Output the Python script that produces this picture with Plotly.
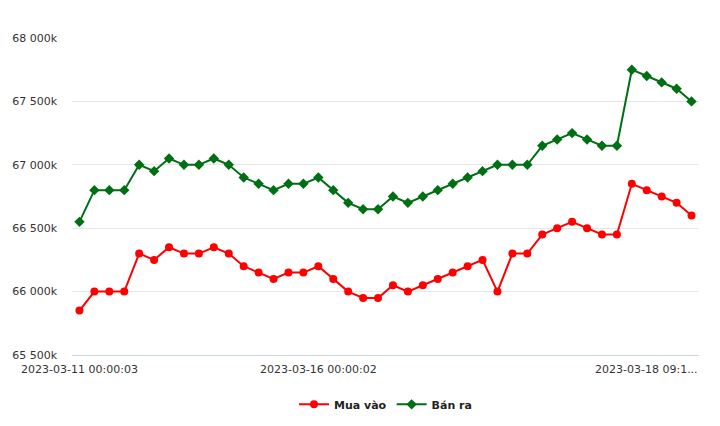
import plotly.graph_objects as go

tick_labels = ["2023-03-11 00:00:03", "2023-03-16 00:00:02"]
tick_index = [0, 16]
last_label = "2023-03-18 09:1..."

mua_vao = [65850, 66000, 66000, 66000, 66300, 66250, 66350, 66300, 66300, 66350,
           66300, 66200, 66150, 66100, 66150, 66150, 66200, 66100, 66000, 65950,
           65950, 66050, 66000, 66050, 66100, 66150, 66200, 66250, 66000, 66300,
           66300, 66450, 66500, 66550, 66500, 66450, 66450, 66850, 66800, 66750,
           66700, 66600]
ban_ra = [66550, 66800, 66800, 66800, 67000, 66950, 67050, 67000, 67000, 67050,
          67000, 66900, 66850, 66800, 66850, 66850, 66900, 66800, 66700, 66650,
          66650, 66750, 66700, 66750, 66800, 66850, 66900, 66950, 67000, 67000,
          67000, 67150, 67200, 67250, 67200, 67150, 67150, 67750, 67700, 67650,
          67600, 67500]

y_ticks = [65500, 66000, 66500, 67000, 67500, 68000]
y_tick_text = ["65 500k", "66 000k", "66 500k", "67 000k", "67 500k", "68 000k"]

x = list(range(len(mua_vao)))
RED = "#ff0000"
GREEN = "#006f14"

fig = go.Figure()
fig.add_trace(go.Scatter(x=x, y=mua_vao, name="Mua vào", mode="lines+markers",
                         line=dict(color=RED, width=2),
                         marker=dict(symbol="circle", size=8, color=RED)))
fig.add_trace(go.Scatter(x=x, y=ban_ra, name="Bán ra", mode="lines+markers",
                         line=dict(color=GREEN, width=2),
                         marker=dict(symbol="diamond", size=8, color=GREEN)))

fig.add_annotation(x=x[-1], y=0, xref="x", yref="paper", text=last_label,
                   showarrow=False, xanchor="right", yanchor="top", xshift=8, yshift=-6,
                   font=dict(family="DejaVu Sans", size=11, color="#333333"))

fig.update_layout(
    width=720, height=426,
    margin=dict(l=72, r=21, t=38, b=71, autoexpand=False),
    paper_bgcolor="white", plot_bgcolor="white",
    font=dict(family="DejaVu Sans", size=11, color="#333333"),
    showlegend=True,
    legend=dict(orientation="h", x=0.5, xanchor="center", y=-0.11, yanchor="top",
                font=dict(family="DejaVu Sans", size=11, color="#222222", weight="bold"),
                itemwidth=30),
    xaxis=dict(range=[-0.5, len(x) - 0.5], tickmode="array", tickvals=tick_index,
               ticktext=tick_labels, showgrid=False, zeroline=False,
               showline=True, linecolor="#ccd6eb", linewidth=1, ticks="",
               ticklabelstandoff=4, automargin=False,
               tickfont=dict(size=11, color="#333333")),
    yaxis=dict(range=[65500, 68000], tickmode="array", tickvals=y_ticks,
               ticktext=y_tick_text, showgrid=True, gridcolor="#e6e6e6", gridwidth=1,
               zeroline=False, ticks="", ticklabelstandoff=14, automargin=False,
               tickfont=dict(size=11, color="#333333")),
)

fig.write_html("out.html")
